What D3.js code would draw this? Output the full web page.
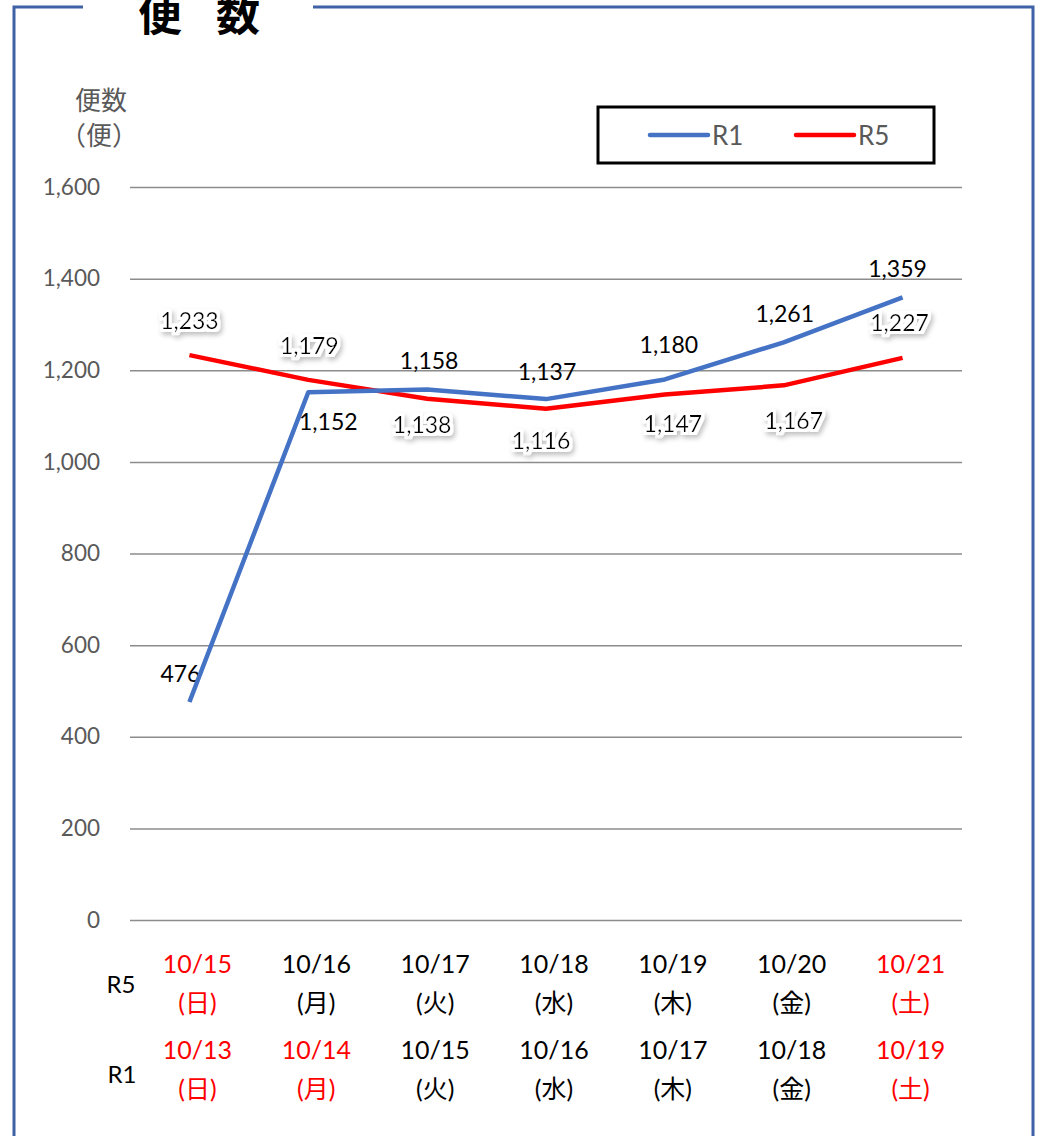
<!DOCTYPE html>
<html lang="ja">
<head>
<meta charset="UTF-8" />
<title>便数</title>
<script src="https://d3js.org/d3.v7.min.js"></script>
<style>
  body { margin: 0; background: #fff; }
  svg { display: block; font-family: Lato, "Noto Sans CJK JP", sans-serif; }
</style>
</head>
<body>
<svg id="chart" width="1040" height="1136"></svg>
<script>
// Data
const r5Dates = ["10/15", "10/16", "10/17", "10/18", "10/19", "10/20", "10/21"];
const r1Dates = ["10/13", "10/14", "10/15", "10/16", "10/17", "10/18", "10/19"];
const weekdays = ["日", "月", "火", "水", "木", "金", "土"];
const r5Holiday = [true, false, false, false, false, false, true];
const r1Holiday = [true, true, false, false, false, false, true];
const r1Values = [476, 1152, 1158, 1137, 1180, 1261, 1359];
const r5Values = [1233, 1179, 1138, 1116, 1147, 1167, 1227];
const yTicks = [0, 200, 400, 600, 800, 1000, 1200, 1400, 1600];

// label placement (dx, dy) relative to each point
const r1LabelOff = [[-9, -29], [20, 29], [2, -29], [1, -28], [4, -35], [1, -29], [-5, -29]];
const r5LabelOff = [[0, -35], [1, -35], [-5, 25], [-5, 31], [8, 28], [10, 35], [-3, -36]];

const svg = d3.select("#chart");
const blue = "#4472C4", red = "#FF0000", gray = "#595959";

// glow filter for data labels
const defs = svg.append("defs");
const f = defs.append("filter").attr("id", "glow").attr("x", "-30%").attr("y", "-50%").attr("width", "160%").attr("height", "200%");
f.append("feMorphology").attr("in", "SourceAlpha").attr("operator", "dilate").attr("radius", 3).attr("result", "dil");
f.append("feGaussianBlur").attr("in", "dil").attr("stdDeviation", 2.5).attr("result", "blur");
f.append("feOffset").attr("in", "blur").attr("dx", 1.5).attr("dy", 2.5).attr("result", "off");
f.append("feFlood").attr("flood-color", "#000").attr("flood-opacity", 0.25).attr("result", "fl");
f.append("feComposite").attr("in", "fl").attr("in2", "off").attr("operator", "in").attr("result", "shadow");
f.append("feFlood").attr("flood-color", "#fff").attr("result", "wf");
f.append("feComposite").attr("in", "wf").attr("in2", "dil").attr("operator", "in").attr("result", "white");
const fm = f.append("feMerge");
fm.append("feMergeNode").attr("in", "shadow");
fm.append("feMergeNode").attr("in", "white");
fm.append("feMergeNode").attr("in", "SourceGraphic");

// frame
svg.append("path")
  .attr("d", "M83,7 H14 V1140 M313,7 H1033 V1140")
  .attr("fill", "none").attr("stroke", "#3F62A6").attr("stroke-width", 3);

const title = svg.append("text")
  .attr("y", 31)
  .attr("text-anchor", "middle")
  .style("font-family", "'Noto Sans CJK JP'")
  .style("font-weight", "bold").style("font-size", "44px");
title.append("tspan").attr("x", 160).text("便");
title.append("tspan").attr("x", 238).text("数");

// Scales
const x = d3.scalePoint().domain(d3.range(7)).range([130, 962]).padding(0.5);
const y = d3.scaleLinear().domain([0, 1600]).range([920, 187]);

// grid + y labels
const yAxis = d3.axisLeft(y).tickValues(yTicks).tickSize(-832).tickPadding(30).tickFormat(d3.format(","));
const ga = svg.append("g").attr("transform", "translate(130,0)").call(yAxis);
ga.select(".domain").remove();
ga.selectAll(".tick line").attr("stroke", "#8C8C8C").attr("stroke-width", 1.5);
ga.selectAll(".tick text").attr("fill", gray).style("font-size", "22.5px").style("font-family", "Lato");

// y title
const yt = svg.append("text").attr("text-anchor", "middle").attr("fill", gray)
  .style("font-family", "'Noto Sans CJK JP'").style("font-size", "26px");
yt.append("tspan").attr("x", 101).attr("y", 110).text("便数");
yt.append("tspan").attr("x", 99).attr("y", 145).text("（便）");

// data labels
function labels(vals, off, glow) {
  svg.append("g").selectAll("text").data(vals).join("text")
    .attr("x", (d, i) => x(i) + off[i][0])
    .attr("y", (d, i) => y(d) + off[i][1])
    .attr("text-anchor", "middle").attr("dominant-baseline", "central")
    .attr("filter", glow ? "url(#glow)" : null)
    .style("font-size", "23px").attr("fill", "#000")
    .text(d => d3.format(",")(d));
}
labels(r1Values, r1LabelOff, false);

// lines
const line = d3.line().x((d, i) => x(i)).y(d => y(d));
svg.append("path").datum(r5Values).attr("d", line)
  .attr("fill", "none").attr("stroke", red).attr("stroke-width", 4.5).attr("stroke-linejoin", "round");
svg.append("path").datum(r1Values).attr("d", line)
  .attr("fill", "none").attr("stroke", blue).attr("stroke-width", 4.5).attr("stroke-linejoin", "round");

labels(r5Values, r5LabelOff, true);

// legend
svg.append("rect").attr("x", 598).attr("y", 107).attr("width", 336).attr("height", 56)
  .attr("fill", "#fff").attr("stroke", "#000").attr("stroke-width", 3);
[["R1", blue, 650], ["R5", red, 796]].forEach(([name, c, lx]) => {
  svg.append("line").attr("x1", lx).attr("x2", lx + 58).attr("y1", 135).attr("y2", 135)
    .attr("stroke", c).attr("stroke-width", 4.5).attr("stroke-linecap", "round");
  svg.append("text").attr("x", lx + 62).attr("y", 135).attr("dominant-baseline", "central")
    .attr("fill", gray).style("font-size", "26px").text(name);
});

// category labels
function catRow(dates, hol, yDate, yDay) {
  const g = svg.append("g");
  g.selectAll("text.d").data(dates).join("text").attr("class", "d")
    .attr("x", (d, i) => x(i) + 8).attr("y", yDate)
    .attr("text-anchor", "middle").attr("dominant-baseline", "central")
    .attr("fill", (d, i) => hol[i] ? red : "#000").style("font-size", "25px")
    .text(d => d);
  g.selectAll("text.w").data(weekdays).join("text").attr("class", "w")
    .attr("x", (d, i) => x(i) + 8).attr("y", yDay)
    .attr("text-anchor", "middle").attr("dominant-baseline", "central")
    .attr("fill", (d, i) => hol[i] ? red : "#000").style("font-size", "25px")
    .text(d => "(" + d + ")");
}
catRow(r5Dates, r5Holiday, 963, 1002);
catRow(r1Dates, r1Holiday, 1049, 1088);

svg.append("text").attr("x", 121).attr("y", 983).attr("text-anchor", "middle")
  .attr("dominant-baseline", "central").style("font-size", "24px").text("R5");
svg.append("text").attr("x", 122).attr("y", 1073).attr("text-anchor", "middle")
  .attr("dominant-baseline", "central").style("font-size", "24px").text("R1");
</script>
</body>
</html>
